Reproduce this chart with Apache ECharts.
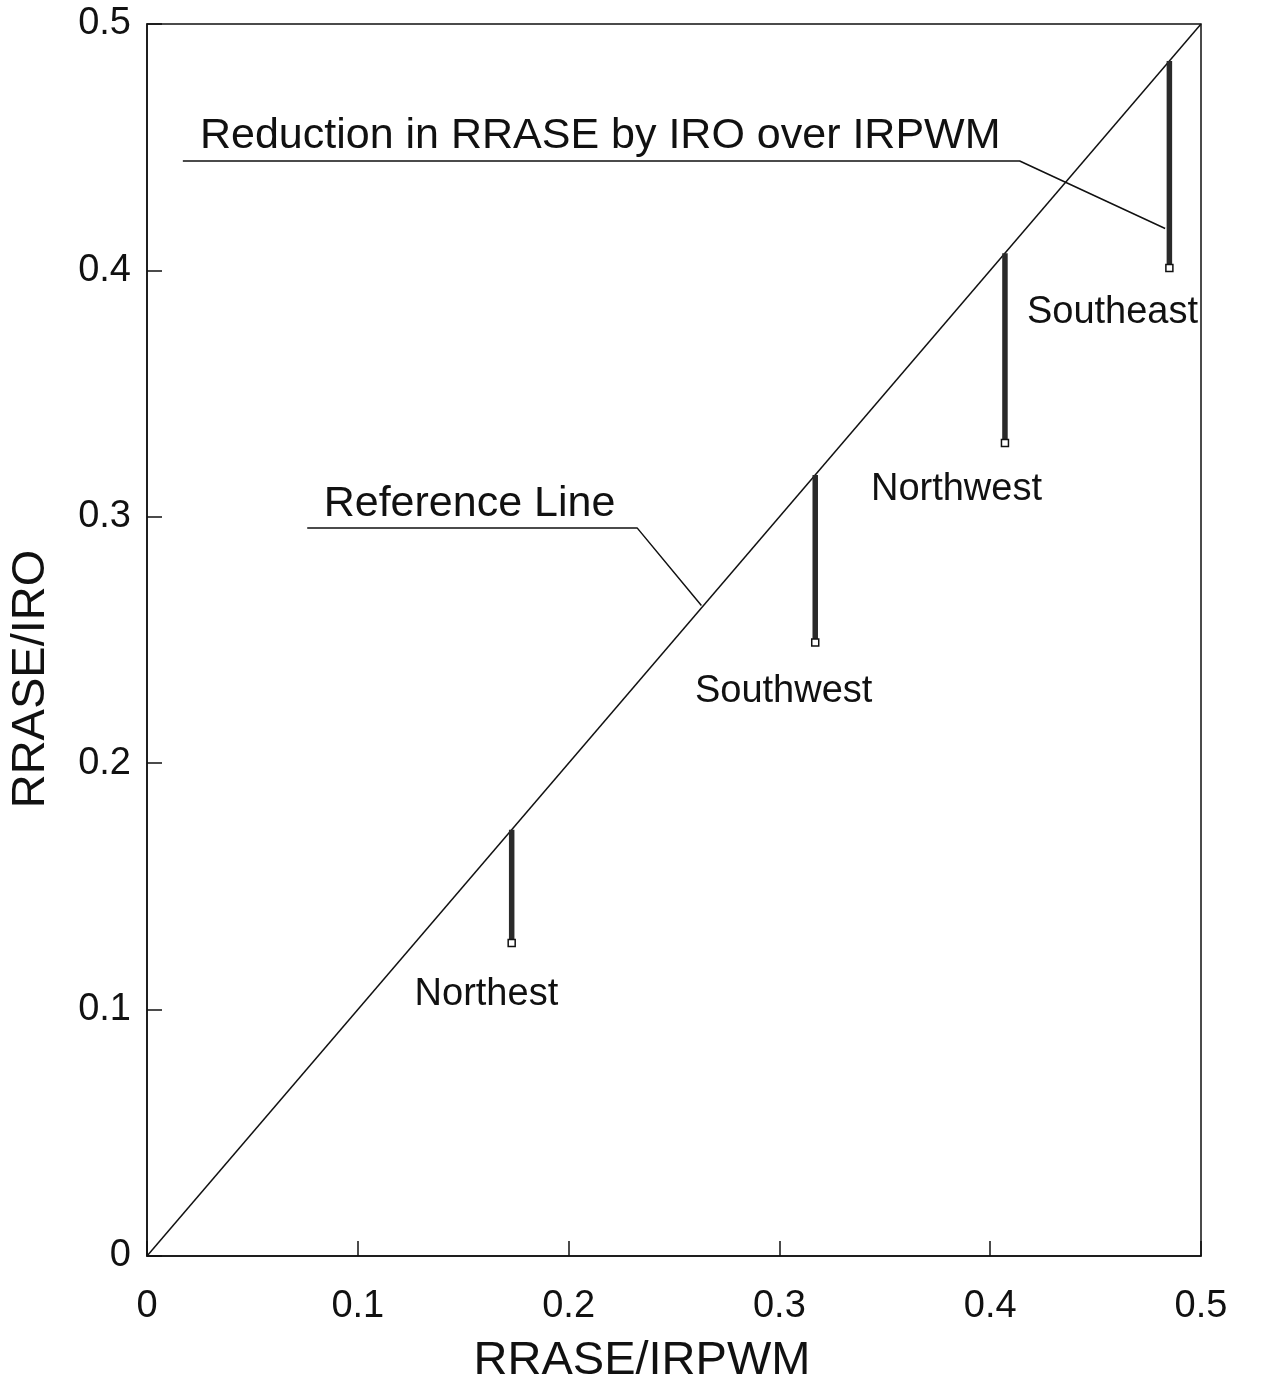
<!DOCTYPE html>
<html>
<head>
<meta charset="utf-8">
<script src="https://cdn.jsdelivr.net/npm/echarts@6/dist/echarts.min.js"></script>
<style>
  html, body { margin: 0; padding: 0; background: #fff; }
  #chart { width: 1262px; height: 1391px; }
</style>
</head>
<body>
<div id="chart"></div>
<script>
// regions and their values
var regions = ["Northest", "Southwest", "Northwest", "Southeast"];
var irpwmVals = [0.173, 0.317, 0.407, 0.485];   // RRASE/IRPWM (top of bar, on reference line)
var iroVals = [0.127, 0.249, 0.330, 0.401];     // RRASE/IRO (bottom of bar)
var labelX = [0.161, 0.302, 0.384, 0.458];
var labelY = [0.106, 0.229, 0.311, 0.383];
var axisTicks = [0, 0.1, 0.2, 0.3, 0.4, 0.5];

// annotation leader lines (data coords)
var reductionLeader = [[0.017, 0.4444], [0.414, 0.4444], [0.483, 0.417]];
var referenceLeader = [[0.076, 0.2955], [0.2325, 0.2955], [0.263, 0.264]];
var noteTexts = ["Reduction in RRASE by IRO over IRPWM", "Reference Line"];
var notePos = [[0.215, 0.4545], [0.153, 0.305]];

var FONT = "Liberation Sans";
var myChart = echarts.init(document.getElementById("chart"));

var series = [
  {
    name: "Reference",
    type: "line",
    data: [[axisTicks[0], axisTicks[0]], [axisTicks[5], axisTicks[5]]],
    symbol: "none",
    lineStyle: { color: "#111", width: 1.5 },
    z: 2
  },
  {
    type: "line",
    data: reductionLeader,
    symbol: "none",
    lineStyle: { color: "#111", width: 1.5 }
  },
  {
    type: "line",
    data: referenceLeader,
    symbol: "none",
    lineStyle: { color: "#111", width: 1.5 }
  },
  {
    type: "scatter",
    symbolSize: 0,
    itemStyle: { opacity: 1 },
    data: regions.map(function (r, i) {
      return { name: r, value: [labelX[i], labelY[i]] };
    }),
    label: {
      show: true,
      position: "inside",
      formatter: "{b}",
      fontFamily: FONT,
      fontSize: 38,
      color: "#111"
    },
    silent: true
  },
  {
    type: "scatter",
    symbolSize: 0,
    itemStyle: { opacity: 1 },
    data: noteTexts.map(function (t, i) {
      return { name: t, value: notePos[i] };
    }),
    label: {
      show: true,
      position: "inside",
      formatter: "{b}",
      fontFamily: FONT,
      fontSize: 43,
      color: "#111"
    },
    silent: true
  }
];

regions.forEach(function (r, i) {
  series.push({
    name: r,
    type: "line",
    data: [
      { value: [irpwmVals[i], irpwmVals[i]], symbol: "none" },
      { value: [irpwmVals[i], iroVals[i]], symbol: "rect", symbolSize: 7 }
    ],
    lineStyle: { color: "#2a2a2a", width: 5.5 },
    itemStyle: { color: "#fff", borderColor: "#111", borderWidth: 1.5 },
    z: 3
  });
});

var option = {
  backgroundColor: "#fff",
  animation: false,
  grid: {
    left: 143,
    top: 24,
    width: 1058,
    height: 1232,
    show: true,
    borderColor: "#111",
    borderWidth: 1.5
  },
  xAxis: {
    type: "value",
    min: 0,
    max: 0.5,
    interval: 0.1,
    name: "RRASE/IRPWM",
    nameLocation: "middle",
    nameGap: 82,
    nameTextStyle: { fontFamily: FONT, fontSize: 47, color: "#111", padding: [0, 64, 0, 0] },
    axisLine: { show: true, lineStyle: { color: "#111", width: 1.5 } },
    axisTick: { show: true, inside: true, length: 15, lineStyle: { color: "#111", width: 1.5 } },
    axisLabel: { fontFamily: FONT, fontSize: 38, color: "#111", margin: 32 },
    splitLine: { show: false }
  },
  yAxis: {
    type: "value",
    min: 0,
    max: 0.5,
    interval: 0.1,
    name: "RRASE/IRO",
    nameLocation: "middle",
    nameGap: 92,
    nameTextStyle: { fontFamily: FONT, fontSize: 47, color: "#111", padding: [0, 78, 0, 0] },
    axisLine: { show: true, lineStyle: { color: "#111", width: 1.5 } },
    axisTick: { show: true, inside: true, length: 15, lineStyle: { color: "#111", width: 1.5 } },
    axisLabel: { fontFamily: FONT, fontSize: 38, color: "#111", margin: 16 },
    splitLine: { show: false }
  },
  series: series
};

myChart.setOption(option);
</script>
</body>
</html>
